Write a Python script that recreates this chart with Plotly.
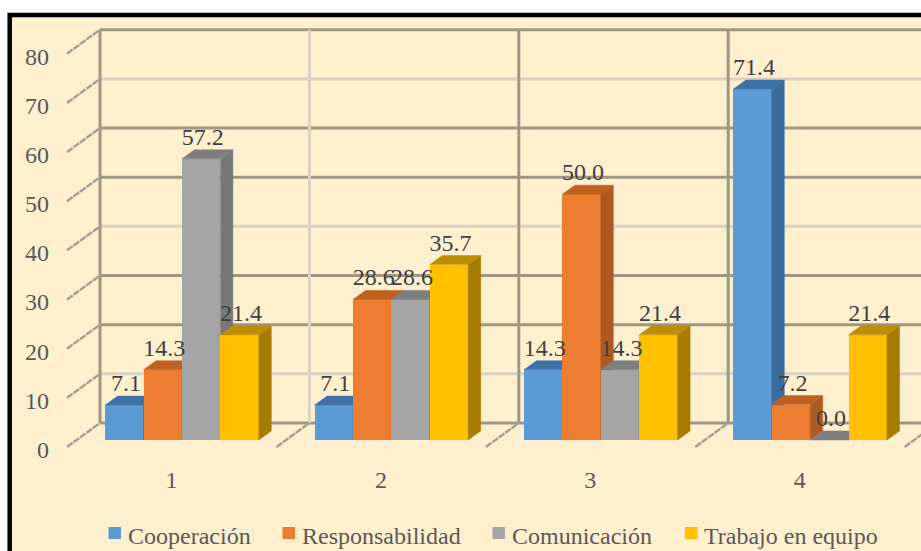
import plotly.graph_objects as go

categories = [1, 2, 3, 4]
cooperacion = [7.1, 7.1, 14.3, 71.4]
responsabilidad = [14.3, 28.6, 50.0, 7.2]
comunicacion = [57.2, 28.6, 14.3, 0.0]
trabajo = [21.4, 35.7, 21.4, 21.4]
y_ticks = [0, 10, 20, 30, 40, 50, 60, 70, 80]

series_names = ["Cooperación", "Responsabilidad", "Comunicación", "Trabajo en equipo"]
series_values = [cooperacion, responsabilidad, comunicacion, trabajo]
front_colors = ["#5B9BD5", "#ED7D31", "#A5A5A5", "#FFC000"]
side_colors = ["#3B6C9B", "#AD5A22", "#787878", "#A67C00"]
top_colors = ["#3E72A6", "#C0601F", "#7E7E7E", "#BC8E00"]

W, H = 921, 551
ML, MR, MT, MB = 52, 0, 20, 89
PX_CAT, PX_UNIT = 209.4, 4.916
C1_PX, BASE_PX = 182, 440
BAR = 38.4 / PX_CAT
DX, DY = 12.5 / PX_CAT, 9 / PX_UNIT
WALL_X = 82 / PX_CAT
WALL_Y = 17 / PX_UNIT
SL_X, SL_Y = 33 / PX_CAT, 24 / PX_UNIT
LABEL_UP = 20 / PX_UNIT

x_range = [1 + (ML - C1_PX) / PX_CAT, 1 + (W - MR - C1_PX) / PX_CAT]
y_range = [(BASE_PX - (H - MB)) / PX_UNIT, (BASE_PX - MT) / PX_UNIT]


def paper_x(px):
    return (px - ML) / (W - ML - MR)


def paper_y(px):
    return ((H - MB) - px) / (H - MT - MB)


fig = go.Figure()

# back wall: horizontal lines, vertical lines, slanted wall ticks
h_colors = ["#A09782", "#D9D2C0", "#A09782", "#A09782", "#D9D2C0",
            "#A09782", "#A09782", "#D9D2C0", "#A09782"]
v_colors = ["#A09782", "#D9D2C0", "#A09782", "#A09782", "#D9D2C0"]
wall_xs = [1 - WALL_X + i for i in range(5)]
top_back = y_ticks[-1] + WALL_Y
for t, col in zip(y_ticks, h_colors):
    fig.add_trace(go.Scatter(x=[wall_xs[0], x_range[1]], y=[t + WALL_Y] * 2, mode="lines",
                             line=dict(color=col, width=3), hoverinfo="skip", showlegend=False))
for wx, col in zip(wall_xs, v_colors):
    fig.add_trace(go.Scatter(x=[wx, wx], y=[WALL_Y, top_back], mode="lines",
                             line=dict(color=col, width=3), hoverinfo="skip", showlegend=False))
sx, sy = [], []
for t in y_ticks:
    sx += [wall_xs[0] - SL_X, wall_xs[0], None]
    sy += [t + WALL_Y - SL_Y, t + WALL_Y, None]
for wx in wall_xs[1:]:
    sx += [wx - SL_X, wx, None]
    sy += [WALL_Y - SL_Y, WALL_Y, None]
fig.add_trace(go.Scatter(x=sx, y=sy, mode="lines",
                         line=dict(color="#A5A194", width=2.5, dash="7px,1px"),
                         hoverinfo="skip", showlegend=False))

# bars: one overlaid subplot per series, so each series paints over the previous one's side face
for k, (name, vals) in enumerate(zip(series_names, series_values)):
    ax = str(k + 2)
    xa, ya = "x" + ax, "y" + ax
    offset = (k - 2) * BAR
    fig.add_trace(go.Bar(x=categories, y=vals, name=name, width=BAR, offset=offset,
                         marker=dict(color=front_colors[k], line=dict(width=0)),
                         xaxis=xa, yaxis=ya, showlegend=False, hoverinfo="x+y"))
    side_x, side_y, top_x, top_y = [], [], [], []
    for c, v in zip(categories, vals):
        l = c + offset
        r = l + BAR
        side_x += [r, r + DX, r + DX, r, r, None]
        side_y += [0, DY, v + DY, v, 0, None]
        top_x += [l, l + DX, r + DX, r, l, None]
        top_y += [v, v + DY, v + DY, v, v, None]
    fig.add_trace(go.Scatter(x=side_x, y=side_y, mode="lines", fill="toself", fillcolor=side_colors[k],
                             line=dict(color=side_colors[k], width=0.5), xaxis=xa, yaxis=ya,
                             hoverinfo="skip", showlegend=False))
    fig.add_trace(go.Scatter(x=top_x, y=top_y, mode="lines", fill="toself", fillcolor=top_colors[k],
                             line=dict(color=top_colors[k], width=0.5), xaxis=xa, yaxis=ya,
                             hoverinfo="skip", showlegend=False))

# data labels on the last overlay, above every bar
for k, vals in enumerate(series_values):
    fig.add_trace(go.Scatter(x=[c + (k - 1.5) * BAR + 1.5 / PX_CAT for c in categories],
                             y=[v + LABEL_UP for v in vals],
                             text=[f"{v:.1f}" for v in vals], mode="text", textposition="middle center",
                             textfont=dict(family="Liberation Serif", size=24, color="#404040"),
                             xaxis="x5", yaxis="y5", hoverinfo="skip", showlegend=False))

hidden = dict(visible=False, fixedrange=True)
fig.update_layout(
    width=W, height=H, margin=dict(l=ML, r=MR, t=MT, b=MB),
    paper_bgcolor="white", plot_bgcolor="rgba(0,0,0,0)",
    font=dict(family="Liberation Serif", size=24, color="#595959"),
    bargap=0, showlegend=False,
    xaxis=dict(range=x_range, tickmode="array", tickvals=[c - 10.5 / PX_CAT for c in categories],
               ticktext=[str(c) for c in categories], showgrid=False, zeroline=False, showline=False,
               ticks="", ticklabelstandoff=1, fixedrange=True),
    yaxis=dict(range=y_range, tickmode="array", tickvals=[t - 9.5 / PX_UNIT for t in y_ticks],
               ticktext=[str(t) for t in y_ticks], showgrid=False, zeroline=False, showline=False,
               ticks="", ticklabelstandoff=2, fixedrange=True),
)
for k in (2, 3, 4, 5):
    fig.layout[f"xaxis{k}"] = dict(range=x_range, overlaying="x", **hidden)
    fig.layout[f"yaxis{k}"] = dict(range=y_range, overlaying="y", **hidden)

# frame and cream panel
fig.add_shape(type="rect", xref="paper", yref="paper", layer="below",
              x0=paper_x(9.7), x1=paper_x(960), y0=paper_y(15), y1=paper_y(600),
              fillcolor="#FEF0CF", line=dict(color="black", width=4.5))

# legend
leg_sq = [108.5, 282.5, 492.5, 685]
leg_txt = [125.5, 299.5, 509.5, 701.5]
for name, col, sq, tx in zip(series_names, front_colors, leg_sq, leg_txt):
    fig.add_shape(type="rect", xref="paper", yref="paper", x0=paper_x(sq), x1=paper_x(sq + 12.5),
                  y0=paper_y(527), y1=paper_y(539), fillcolor=col, line=dict(width=0))
    fig.add_annotation(xref="paper", yref="paper", x=paper_x(tx), y=paper_y(536), text=name,
                       showarrow=False, xanchor="left", yanchor="middle",
                       font=dict(family="Liberation Serif", size=24, color="#595959"))

fig.write_html("out.html", config=dict(displayModeBar=False),
               post_script="document.body.style.margin='0';document.body.style.overflow='hidden';")
